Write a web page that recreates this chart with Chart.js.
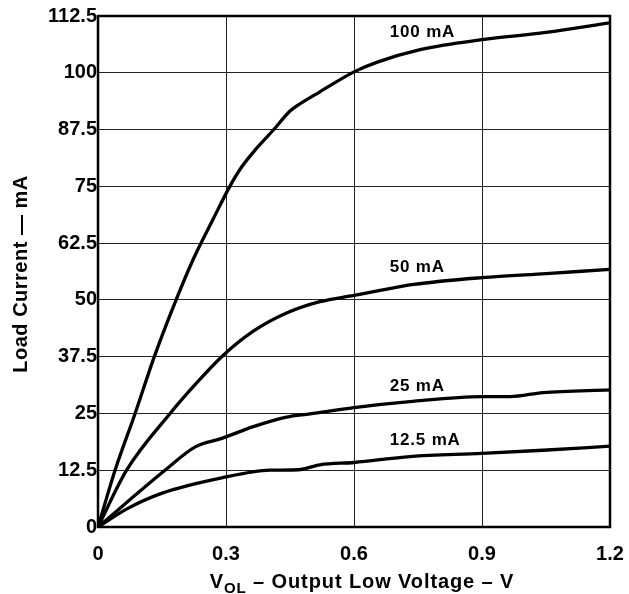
<!DOCTYPE html>
<html>
<head>
<meta charset="utf-8">
<script src="https://cdn.jsdelivr.net/npm/chart.js@4.4.1/dist/chart.umd.min.js"></script>
<style>
  html, body { margin: 0; padding: 0; background: #fff; overflow: hidden; }
  #wrap { width: 629px; height: 594px; position: relative; }
</style>
</head>
<body>
<div id="wrap"><canvas id="chart"></canvas></div>
<script>
// axis ticks
const xTicks = [0, 0.3, 0.6, 0.9, 1.2];
const yTicks = [0, 12.5, 25, 37.5, 50, 62.5, 75, 87.5, 100, 112.5];

// curve names (sink current setting)
const curveNames = ["100 mA", "50 mA", "25 mA", "12.5 mA"];

// VOL (V) / load current (mA)
const v100 = [0, 0.04, 0.087, 0.132, 0.183, 0.223, 0.27, 0.309, 0.337, 0.372, 0.411, 0.45, 0.466, 0.52, 0.6, 0.653, 0.755, 0.9, 1.05, 1.2];
const i100 = [0, 12.5, 25, 37.5, 50, 58.9, 67.8, 75, 79.3, 83.4, 87.4, 91.6, 92.7, 95.8, 100.2, 102.3, 105.1, 107.3, 108.9, 111.0];

const v50 = [0, 0.067, 0.169, 0.229, 0.29, 0.364, 0.442, 0.52, 0.6, 0.64, 0.74, 0.9, 1.05, 1.2];
const i50 = [0, 12.5, 25, 31.5, 37.5, 43.1, 47.1, 49.6, 51.0, 51.7, 53.4, 54.9, 55.8, 56.7];

const v25 = [0, 0.157, 0.229, 0.29, 0.364, 0.442, 0.497, 0.6, 0.731, 0.9, 0.966, 1.043, 1.2];
const i25 = [0, 12.5, 17.7, 19.5, 22.1, 24.2, 24.9, 26.3, 27.6, 28.7, 28.7, 29.6, 30.2];

const v12 = [0, 0.07, 0.149, 0.29, 0.403, 0.47, 0.52, 0.6, 0.731, 0.9, 1.043, 1.2];
const i12 = [0, 4.1, 7.4, 10.8, 12.5, 12.6, 13.7, 14.2, 15.5, 16.2, 16.9, 17.8];

// where each curve name sits (V, mA)
const nameAt = [[0.684, 109.0], [0.684, 57.2], [0.684, 31.0], [0.684, 19.1]];

const FONT = "'Liberation Sans', Arial, Helvetica, sans-serif";

function pts(xs, ys) {
    return xs.map((x, i) => ({ x: x, y: ys[i] }));
}

const series = [pts(v100, i100), pts(v50, i50), pts(v25, i25), pts(v12, i12)];

// frame, curve names and axis titles
const extras = {
    id: "extras",
    beforeDatasetsDraw(chart) {
        const a = chart.chartArea;
        const c = chart.ctx;
        c.save();
        c.strokeStyle = "#000";
        c.lineWidth = 2.5;
        c.strokeRect(a.left, a.top, a.right - a.left, a.bottom - a.top);
        c.restore();
    },
    afterDraw(chart) {
        const c = chart.ctx;
        const xs = chart.scales.x;
        const ys = chart.scales.y;
        c.save();
        c.fillStyle = "#000";

        // curve names
        c.font = "bold 17px " + FONT;
        c.letterSpacing = "0.8px";
        c.textAlign = "left";
        c.textBaseline = "middle";
        curveNames.forEach((n, i) => {
            c.fillText(n, xs.getPixelForValue(nameAt[i][0]), ys.getPixelForValue(nameAt[i][1]));
        });

        // x title with subscript
        c.textBaseline = "alphabetic";
        c.letterSpacing = "0.9px";
        const big = "bold 20px " + FONT;
        const small = "bold 15px " + FONT;
        const rest = " \u2013 Output Low Voltage \u2013 V";
        c.font = big;
        const wV = c.measureText("V").width;
        const wRest = c.measureText(rest).width;
        c.font = small;
        const wSub = c.measureText("OL").width;
        let x0 = 362 - (wV + wSub + wRest) / 2;
        const base = 588;
        c.font = big;
        c.fillText("V", x0, base);
        c.font = small;
        c.fillText("OL", x0 + wV, base + 5);
        c.font = big;
        c.fillText(rest, x0 + wV + wSub, base);

        // y title
        c.letterSpacing = "0.5px";
        c.translate(27, 274);
        c.rotate(-Math.PI / 2);
        c.textAlign = "center";
        c.font = big;
        c.fillText("Load Current \u2014 mA", 0, 0);
        c.restore();
    }
};

new Chart(document.getElementById("chart"), {
    type: "line",
    data: {
        datasets: series.map((s, i) => ({
            label: curveNames[i],
            data: s,
            borderColor: "#000",
            borderWidth: 3.3,
            pointRadius: 0,
            fill: false,
            cubicInterpolationMode: "monotone",
            borderCapStyle: "round",
            borderJoinStyle: "round"
        }))
    },
    options: {
        responsive: true,
        maintainAspectRatio: false,
        animation: false,
        layout: { padding: { top: 16, right: 19, bottom: 0, left: 0 } },
        plugins: {
            legend: { display: false },
            tooltip: { enabled: false }
        },
        scales: {
            x: {
                type: "linear",
                min: 0,
                max: 1.2,
                afterBuildTicks: (s) => { s.ticks = xTicks.map(v => ({ value: v })); },
                afterFit: (s) => { s.height = 67; },
                ticks: {
                    color: "#000",
                    font: { family: FONT, size: 20, weight: "bold" },
                    padding: 0,
                    maxRotation: 0,
                    callback: (v) => String(v)
                },
                // invisible tick marks just push the labels down
                grid: { color: "#222", lineWidth: 1, drawTicks: true, tickLength: 15, tickColor: "rgba(0,0,0,0)" },
                border: { display: false }
            },
            y: {
                type: "linear",
                min: 0,
                max: 112.5,
                afterBuildTicks: (s) => { s.ticks = yTicks.map(v => ({ value: v })); },
                afterFit: (s) => { s.width = 98; },
                ticks: {
                    color: "#000",
                    font: { family: FONT, size: 20, weight: "bold" },
                    padding: 1,
                    callback: (v) => String(v)
                },
                grid: { color: "#222", lineWidth: 1, drawTicks: false },
                border: { display: false }
            }
        }
    },
    plugins: [extras]
});
</script>
</body>
</html>
